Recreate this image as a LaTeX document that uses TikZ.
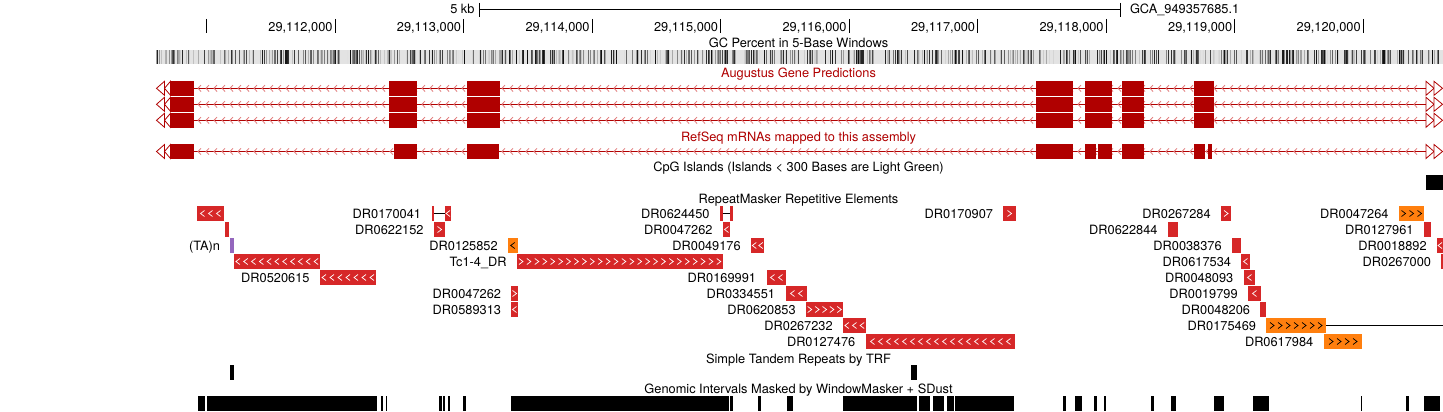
\documentclass[tikz,border=0pt]{standalone}
\usepackage{fontspec}
\setmainfont{TeX Gyre Heros}
\definecolor{genered}{RGB}{176,0,0}
\definecolor{chevred}{RGB}{226,120,120}
\definecolor{rmred}{RGB}{214,39,40}
\definecolor{rmorange}{RGB}{255,127,14}
\definecolor{rmpurple}{RGB}{148,103,189}
\colorlet{gcbg}{black!11}
% repeat box: x1, x2, row top, colour, number of chevrons, direction (+2 > / -2 <), chevron colour
\newcommand\rmbox[7]{%
  \fill[#4] (#1,#3) rectangle (#2,#3+15);
  \ifnum#5>0
    \pgfmathsetmacro\rmw{#2-#1}%
    \pgfmathsetmacro\rmsp{min(8,\rmw/#5)}%
    \pgfmathsetmacro\rmst{#1+(\rmw-\rmsp*(#5-1))/2}%
    \foreach \k in {1,...,#5}{%
      \pgfmathsetmacro\cx{\rmst+(\k-1)*\rmsp}%
      \pgfmathsetmacro\ca{\cx-#6}%
      \pgfmathsetmacro\cb{\cx+#6}%
      \draw[#7,line width=0.7pt] (\ca,#3+4.5) -- (\cb,#3+7.5) -- (\ca,#3+10.5);
    }%
  \fi
}
% gene row: y centre, exon list
\newcommand\generow[2]{%
  \draw[genered] (170,#1) -- (1426,#1);
  \foreach \cx in {198,206,...,1418}
    \draw[chevred,line width=0.8pt] (\cx+3,#1-3.2) -- (\cx,#1) -- (\cx+3,#1+3.2);
  \draw[genered,fill=white,line width=0.8pt] (164.5,#1-7) -- (156.5,#1) -- (164.5,#1+7) -- cycle;
  \draw[genered,fill=white,line width=0.8pt] (170.5,#1-7) -- (164.5,#1) -- (170.5,#1+7) -- cycle;
  \draw[genered,fill=white,line width=0.8pt] (1426,#1-7) -- (1434,#1) -- (1426,#1+7) -- cycle;
  \draw[genered,fill=white,line width=0.8pt] (1434,#1-7) -- (1442.5,#1) -- (1434,#1+7) -- cycle;
  \foreach \a/\b in {#2} \fill[genered] (\a,#1-7.3) rectangle (\b,#1+7.3);
}
\begin{document}
\begin{tikzpicture}[x=1pt,y=-1pt,line width=1pt,
  every node/.style={font=\fontsize{12.8}{14}\selectfont,inner sep=0pt,outer sep=0pt},
  title/.style={anchor=base},
  lbl/.style={anchor=base east}]
\useasboundingbox[fill=white] (0,0) rectangle (1443,412);

% ---- scale bar
\node[anchor=base east] (kb) at (474.5,14) {5 kb};
\coordinate (sbL) at (479,9.5);
\coordinate (sbR) at (1120,9.5);
\draw (sbL) -- (sbR);
\draw (479,3) -- (479,17);
\draw (1120,3) -- (1120,17);
\node[anchor=base west] (asm) at (1130,14) {GCA\_949357685.1};

% ---- ruler
\foreach \t in {206.5,335.0,463.5,592.1,720.6,849.1,977.6,1106.1,1234.7,1363.2}
  \draw (\t,19) -- (\t,33);
\node[lbl] (r12) at (332.5,32) {29,112,000};
\node[lbl] (r13) at (461.0,32) {29,113,000};
\node[lbl] (r14) at (589.6,32) {29,114,000};
\node[lbl] (r15) at (718.1,32) {29,115,000};
\node[lbl] (r16) at (846.6,32) {29,116,000};
\node[lbl] (r17) at (975.1,32) {29,117,000};
\node[lbl] (r18) at (1103.6,32) {29,118,000};
\node[lbl] (r19) at (1232.2,32) {29,119,000};
\node[lbl] (r20) at (1360.7,32) {29,120,000};

% ---- GC percent
\node[title] (gct) at (798.5,47.5) {GC Percent in 5-Base Windows};
\fill[gcbg] (156,50) rectangle (1443,64);
\pgfmathsetseed{11}
\foreach \i in {156,...,1442}{%
  \pgfmathtruncatemacro\sh{max(0,min(100,rnd*190-95))}%
  \ifnum\sh>0 \fill[black!\sh!gcbg] (\i,50) rectangle (\i+1,64);\fi
}

% ---- Augustus
\node[title,text=genered] (augt) at (798.5,77.5) {Augustus Gene Predictions};
\generow{88.3}{169.5/194,389/417,467/500,1036/1073,1085/1112,1122/1144,1194/1214}
\generow{104.3}{169.5/194,389/417,467/500,1036/1073,1085/1112,1122/1144,1194/1214}
\generow{120.3}{169.5/194,389/417,467/500,1036/1073,1085/1112,1122/1144,1194/1214}

% ---- RefSeq
\node[title,text=genered] (reft) at (798.5,141) {RefSeq mRNAs mapped to this assembly};
\generow{151.5}{170.5/194,394/417,467/499,1036/1073,1085/1096,1098/1112,1122/1144,1194/1205,1208/1211.7}

% ---- CpG
\node[title] (cpgt) at (798.5,171.5) {CpG Islands (Islands < 300 Bases are Light Green)};
\fill (1426,175) rectangle (1443,190);

% ---- RepeatMasker
\node[title] (rmt) at (798.5,203.5) {RepeatMasker Repetitive Elements};
% row 1 (top 206)
\rmbox{197}{224}{206}{rmred}{3}{-2}{white}
\node[lbl] (l1a) at (421,218.3) {DR0170041};
\fill[rmred] (432,206) rectangle (434,221);
\coordinate (j1a) at (434,213.5); \coordinate (j1b) at (445,213.5);
\draw (j1a) -- (j1b);
\rmbox{445}{451}{206}{rmred}{1}{-2}{white}
\node[lbl] (l1b) at (709.5,218.3) {DR0624450};
\fill[rmred] (720.3,206) rectangle (722.7,221);
\fill[rmred] (730,206) rectangle (733,221);
\coordinate (j2a) at (722.7,213.5); \coordinate (j2b) at (730,213.5);
\draw (j2a) -- (j2b);
\node[lbl] (l1c) at (993,218.3) {DR0170907};
\rmbox{1003}{1016}{206}{rmred}{1}{2}{white}
\node[lbl] (l1d) at (1210.7,218.3) {DR0267284};
\rmbox{1221}{1231}{206}{rmred}{1}{2}{white}
\node[lbl] (l1e) at (1388.5,218.3) {DR0047264};
\rmbox{1399}{1424}{206}{rmorange}{3}{2}{black}
% row 2 (top 222)
\rmbox{225}{229}{222}{rmred}{0}{0}{white}
\node[lbl] (l2a) at (423.5,234.3) {DR0622152};
\rmbox{434}{445}{222}{rmred}{1}{2}{white}
\node[lbl] (l2b) at (712.5,234.3) {DR0047262};
\rmbox{723}{730}{222}{rmred}{1}{-2}{white}
\node[lbl] (l2c) at (1157.5,234.3) {DR0622844};
\rmbox{1168}{1178}{222}{rmred}{0}{0}{white}
\node[lbl] (l2d) at (1413.5,234.3) {DR0127961};
\rmbox{1424}{1431}{222}{rmred}{0}{0}{white}
% row 3 (top 238)
\node[lbl] (l3a) at (220,250.3) {(TA)n};
\rmbox{230}{234}{238}{rmpurple}{0}{0}{white}
\node[lbl] (l3b) at (497.7,250.3) {DR0125852};
\rmbox{507.7}{517.7}{238}{rmorange}{1}{-2}{black}
\node[lbl] (l3c) at (740.7,250.3) {DR0049176};
\rmbox{751}{764}{238}{rmred}{2}{-2}{white}
\node[lbl] (l3d) at (1221.7,250.3) {DR0038376};
\rmbox{1232}{1241}{238}{rmred}{0}{0}{white}
\node[lbl] (l3e) at (1426.7,250.3) {DR0018892};
\rmbox{1437}{1443}{238}{rmred}{1}{-2}{white}
% row 4 (top 254)
\rmbox{234}{320}{254}{rmred}{11}{-2}{white}
\node[lbl] (l4a) at (506.7,266.3) {Tc1-4\_DR};
\rmbox{517}{722.7}{254}{rmred}{26}{2}{white}
\node[lbl] (l4b) at (1231,266.3) {DR0617534};
\rmbox{1241}{1250}{254}{rmred}{1}{-2}{white}
\node[lbl] (l4c) at (1431,266.3) {DR0267000};
\rmbox{1441}{1443}{254}{rmred}{0}{0}{white}
% row 5 (top 270)
\node[lbl] (l5a) at (309.5,282.3) {DR0520615};
\rmbox{320}{376}{270}{rmred}{7}{-2}{white}
\node[lbl] (l5b) at (756,282.3) {DR0169991};
\rmbox{767}{786}{270}{rmred}{2}{-2}{white}
\node[lbl] (l5c) at (1233.3,282.3) {DR0048093};
\rmbox{1244}{1255}{270}{rmred}{1}{-2}{white}
% row 6 (top 286)
\node[lbl] (l6a) at (501,298.3) {DR0047262};
\rmbox{511}{518}{286}{rmred}{1}{2}{white}
\node[lbl] (l6b) at (775,298.3) {DR0334551};
\rmbox{786}{807}{286}{rmred}{2}{-2}{white}
\node[lbl] (l6c) at (1237.7,298.3) {DR0019799};
\rmbox{1248}{1261}{286}{rmred}{1}{-2}{white}
% row 7 (top 302)
\node[lbl] (l7a) at (501,314.3) {DR0589313};
\rmbox{511}{518}{302}{rmred}{1}{-2}{white}
\node[lbl] (l7b) at (795.7,314.3) {DR0620853};
\rmbox{806}{843}{302}{rmred}{5}{2}{white}
\node[lbl] (l7c) at (1250,314.3) {DR0048206};
\rmbox{1260}{1266}{302}{rmred}{0}{0}{white}
% row 8 (top 318)
\node[lbl] (l8a) at (832.7,330.3) {DR0267232};
\rmbox{843}{866}{318}{rmred}{3}{-2}{white}
\node[lbl] (l8b) at (1256,330.3) {DR0175469};
\rmbox{1266}{1326}{318}{rmorange}{7}{2}{black}
\coordinate (j3a) at (1326,325.5); \coordinate (j3b) at (1443,325.5);
\draw (j3a) -- (j3b);
% row 9 (top 334)
\node[lbl] (l9a) at (855.3,346.3) {DR0127476};
\rmbox{866}{1015}{334}{rmred}{18}{-2}{white}
\node[lbl] (l9b) at (1313.3,346.3) {DR0617984};
\rmbox{1324}{1362}{334}{rmorange}{4}{2}{black}

% ---- TRF
\node[title] (trft) at (798.5,363) {Simple Tandem Repeats by TRF};
\fill (230,365) rectangle (234,380);
\fill (911,365) rectangle (917,380);

% ---- WindowMasker
\node[title] (wmt) at (798.5,393) {Genomic Intervals Masked by WindowMasker + SDust};
\foreach \a/\b in {198/205,207/377,381/383,385.5/387,439/441.5,443/445,447.5/450,463/466,
  511/729,730/733,757.5/760.5,787/793,843/917,919/930,933/943.5,946.5/953.5,955/1014,
  1062.5/1065.5,1075/1082,1094/1097,1103.5/1105.5,1151/1153.5,1171/1175.5,1214/1224,
  1253/1269,1360.5/1361.5,1405.5/1408.5,1424/1440}
  \fill (\a,396) rectangle (\b,411);
\end{tikzpicture}
\end{document}
